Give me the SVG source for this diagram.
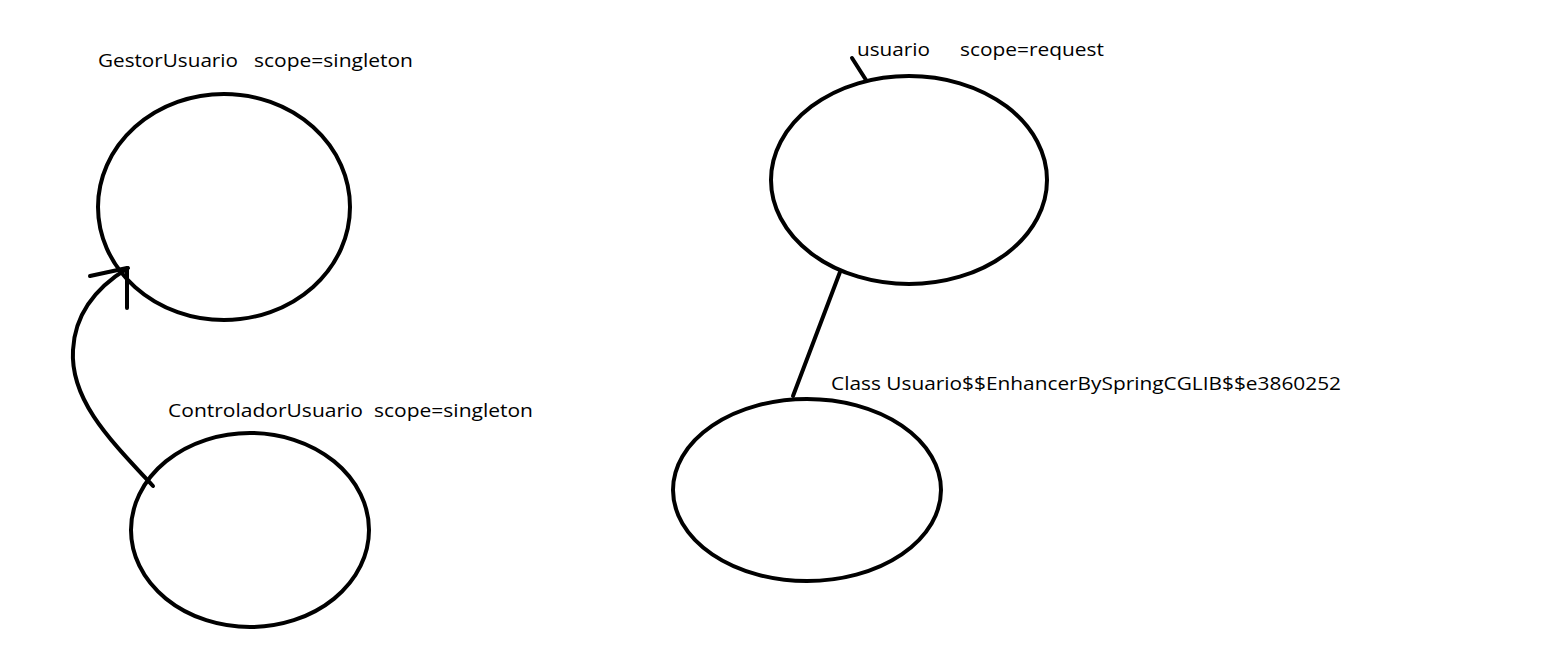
<svg xmlns="http://www.w3.org/2000/svg" width="1555" height="660" viewBox="0 0 1555 660">
<style>
.n{fill:none;stroke:#000;stroke-width:4}
.c{fill:none;stroke:#000;stroke-width:4;stroke-linecap:round;stroke-linejoin:round}
text{font-family:"Open Sans","Noto Sans",sans-serif;font-size:19px;fill:#000}
</style>
<rect width="1555" height="660" fill="#fff"/>
<g id="gestor">
<ellipse class="n" cx="224" cy="207" rx="126" ry="113"/>
<text x="98" y="67" textLength="140" lengthAdjust="spacingAndGlyphs">GestorUsuario</text>
<text x="254" y="67" textLength="159" lengthAdjust="spacingAndGlyphs">scope=singleton</text>
</g>
<g id="controlador">
<ellipse class="n" cx="250" cy="530" rx="119" ry="97"/>
<text x="168" y="417" textLength="195" lengthAdjust="spacingAndGlyphs">ControladorUsuario</text>
<text x="374" y="417" textLength="159" lengthAdjust="spacingAndGlyphs">scope=singleton</text>
</g>
<g id="usuario">
<ellipse class="n" cx="909" cy="180" rx="138" ry="104"/>
<text x="857" y="56" textLength="73" lengthAdjust="spacingAndGlyphs">usuario</text>
<text x="960" y="56" textLength="144" lengthAdjust="spacingAndGlyphs">scope=request</text>
</g>
<g id="proxy">
<ellipse class="n" cx="807" cy="490" rx="134" ry="91"/>
<text x="831" y="390" textLength="510" lengthAdjust="spacingAndGlyphs">Class Usuario$$EnhancerBySpringCGLIB$$e3860252</text>
</g>
<g id="connectors">
<path class="c" d="M153,486 C110,440 70,400 73,350 C75,310 100,285 128,268"/>
<path class="c" d="M90,276 L127,268 L127,308"/>
<path class="c" d="M852,58 L866,80"/>
<path class="c" d="M840,272 L793,396"/>
</g>
</svg>
